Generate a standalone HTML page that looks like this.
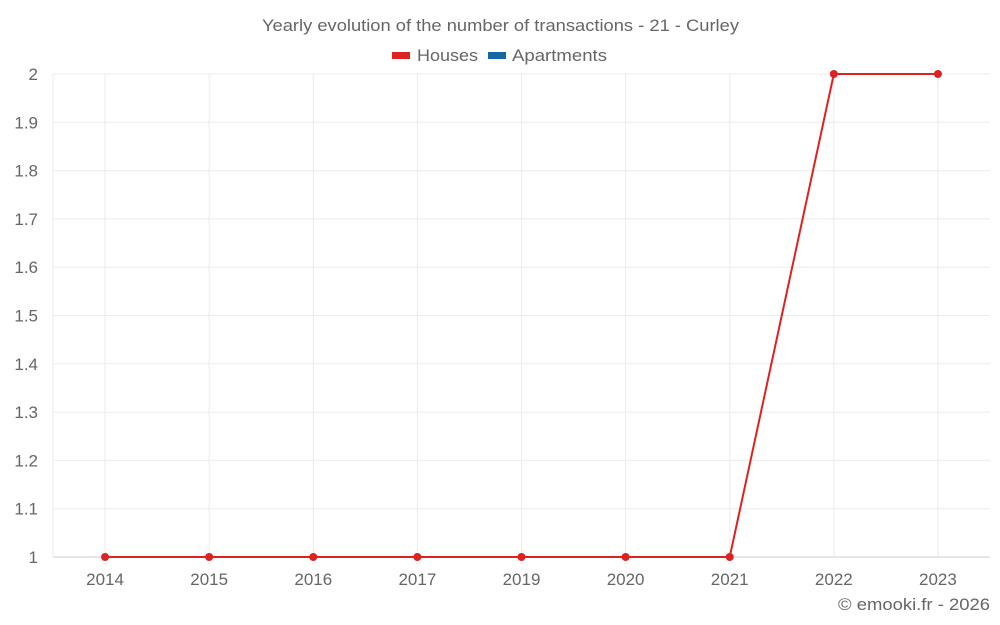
<!DOCTYPE html>
<html><head><meta charset="utf-8"><style>
html,body{margin:0;padding:0;background:#fff;}
svg{display:block;font-family:"Liberation Sans",sans-serif;}
</style></head><body>
<svg id="chart" width="1000" height="625">
<text x="262" y="31" textLength="477" lengthAdjust="spacingAndGlyphs" font-size="17" fill="#666">Yearly evolution of the number of transactions - 21 - Curley</text>
<g>
<g><rect x="392" y="52" width="18" height="7" fill="#dd2222"/><text x="417" y="61" textLength="61" lengthAdjust="spacingAndGlyphs" font-size="17" fill="#666">Houses</text></g>
<g><rect x="488" y="52" width="18" height="7" fill="#1565a0"/><text x="512" y="61" textLength="95" lengthAdjust="spacingAndGlyphs" font-size="17" fill="#666">Apartments</text></g>
</g>
<g id="grid"></g>
<g id="yaxis"></g>
<g id="xaxis"></g>
<g id="series"></g>
<text x="838" y="610" textLength="152" lengthAdjust="spacingAndGlyphs" font-size="17" fill="#666">© emooki.fr - 2026</text>
</svg>
<script>
const categories = ["2014","2015","2016","2017","2019","2020","2021","2022","2023"];
const housesValues = [1,1,1,1,1,1,1,2,2];
const yTicks = [1,1.1,1.2,1.3,1.4,1.5,1.6,1.7,1.8,1.9,2];
const NS="http://www.w3.org/2000/svg";
const L=53,R=990,T=74,B=557,yMin=1,yMax=2;
const band=(R-L)/categories.length;
const xs=i=>L+band*(i+0.5);
const ys=v=>B-(v-yMin)/(yMax-yMin)*(B-T);
function mk(tag,attrs,parent){const e=document.createElementNS(NS,tag);for(const k in attrs)e.setAttribute(k,attrs[k]);parent.appendChild(e);return e;}
const grid=document.getElementById('grid'),ya=document.getElementById('yaxis'),xa=document.getElementById('xaxis'),se=document.getElementById('series');
yTicks.forEach(t=>{
  const y=ys(t);
  const l=mk('line',{x1:L,x2:R,y1:y,y2:y,stroke:t===yMin?'#ccc':'#ebebeb','stroke-width':1},grid);
  
  
  const tx=mk('text',{x:38,y:y+6,'text-anchor':'end','font-size':17,fill:'#666'},ya);
  tx.textContent=String(t);
  
  
});
const la=mk('line',{x1:L,x2:L,y1:T,y2:B,stroke:'#ebebeb'},grid);


categories.forEach((c,i)=>{
  const x=xs(i);
  const l=mk('line',{x1:x,x2:x,y1:T,y2:B,stroke:'#ebebeb'},grid);
  
  
  const tx=mk('text',{x:x,y:585,'text-anchor':'middle','font-size':17,fill:'#666'},xa);
  tx.textContent=c;
  
  
});
const pts=housesValues.map((v,i)=>xs(i)+','+ys(v)).join(' ');
const pl=mk('polyline',{points:pts,fill:'none',stroke:'#dd2222','stroke-width':2},se);


housesValues.forEach((v,i)=>{
  const c=mk('circle',{cx:xs(i),cy:ys(v),r:4,fill:'#dd2222'},se);
  
  
});
</script>
</body></html>
